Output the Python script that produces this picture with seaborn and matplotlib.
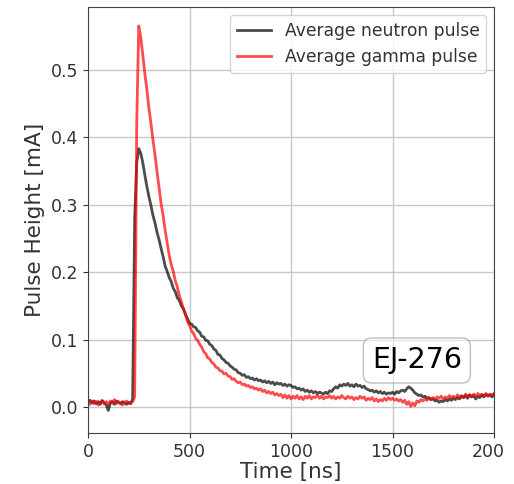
import numpy as np
import pandas as pd
import seaborn as sns
import matplotlib
matplotlib.use("Agg")
import matplotlib.pyplot as plt
from matplotlib.patches import Rectangle

# time axis, 10 ns sampling
time_ns = np.arange(0, 2001, 10)

# average neutron pulse [mA]
neutron = [
    0.007, 0.010, 0.006, 0.009, 0.005, 0.008, 0.004, 0.009, 0.006, 0.003,
    -0.005, 0.006, 0.008, 0.004, 0.009, 0.007, 0.005, 0.008, 0.006, 0.004,
    0.007, 0.005, 0.012, 0.280, 0.362, 0.383, 0.376, 0.362, 0.344, 0.327,
    0.312, 0.299, 0.284, 0.273, 0.259, 0.248, 0.235, 0.223, 0.209, 0.201,
    0.192, 0.186, 0.176, 0.171, 0.162, 0.158, 0.150, 0.146, 0.137, 0.131,
    0.124, 0.123, 0.119, 0.118, 0.113, 0.111, 0.105, 0.104, 0.099, 0.098,
    0.093, 0.091, 0.086, 0.084, 0.078, 0.077, 0.072, 0.070, 0.066, 0.065,
    0.061, 0.059, 0.056, 0.055, 0.051, 0.050, 0.047, 0.048, 0.044, 0.045,
    0.042, 0.043, 0.040, 0.042, 0.039, 0.040, 0.037, 0.039, 0.036, 0.038,
    0.035, 0.037, 0.033, 0.036, 0.034, 0.035, 0.032, 0.034, 0.031, 0.033,
    0.032, 0.029, 0.030, 0.027, 0.028, 0.025, 0.027, 0.023, 0.025, 0.022,
    0.024, 0.021, 0.023, 0.020, 0.022, 0.021, 0.019, 0.022, 0.020, 0.024,
    0.023, 0.027, 0.030, 0.028, 0.033, 0.031, 0.034, 0.032, 0.035, 0.031,
    0.033, 0.030, 0.034, 0.031, 0.032, 0.029, 0.031, 0.027, 0.026, 0.024,
    0.025, 0.022, 0.024, 0.021, 0.023, 0.020, 0.022, 0.019, 0.021, 0.020,
    0.022, 0.019, 0.023, 0.021, 0.024, 0.025, 0.023, 0.027, 0.030, 0.028,
    0.025, 0.021, 0.019, 0.017, 0.018, 0.015, 0.016, 0.013, 0.014, 0.011,
    0.012, 0.009, 0.010, 0.007, 0.009, 0.008, 0.011, 0.009, 0.012, 0.010,
    0.013, 0.011, 0.014, 0.012, 0.016, 0.014, 0.017, 0.013, 0.018, 0.015,
    0.017, 0.012, 0.016, 0.014, 0.018, 0.015, 0.019, 0.016, 0.018, 0.015,
    0.019,
]

# average gamma pulse [mA]
gamma = [
    0.006, 0.004, 0.009, 0.005, 0.008, 0.003, 0.007, 0.010, 0.005, 0.008,
    0.004, 0.009, 0.006, 0.011, 0.005, 0.008, 0.006, 0.003, 0.007, 0.009,
    0.005, 0.006, 0.008, 0.015, 0.420, 0.565, 0.548, 0.522, 0.494, 0.471,
    0.443, 0.421, 0.396, 0.374, 0.349, 0.326, 0.302, 0.284, 0.262, 0.243,
    0.225, 0.211, 0.201, 0.187, 0.178, 0.165, 0.156, 0.145, 0.138, 0.127,
    0.121, 0.113, 0.109, 0.102, 0.099, 0.093, 0.089, 0.082, 0.079, 0.073,
    0.071, 0.066, 0.064, 0.059, 0.058, 0.054, 0.053, 0.049, 0.050, 0.046,
    0.045, 0.041, 0.042, 0.038, 0.036, 0.037, 0.033, 0.034, 0.031, 0.032,
    0.029, 0.030, 0.027, 0.028, 0.025, 0.027, 0.023, 0.025, 0.021, 0.023,
    0.020, 0.022, 0.018, 0.020, 0.017, 0.019, 0.014, 0.018, 0.013, 0.017,
    0.012, 0.016, 0.013, 0.017, 0.012, 0.015, 0.011, 0.016, 0.013, 0.017,
    0.012, 0.015, 0.014, 0.018, 0.013, 0.016, 0.012, 0.015, 0.014, 0.017,
    0.013, 0.016, 0.012, 0.015, 0.013, 0.017, 0.014, 0.012, 0.016, 0.013,
    0.015, 0.011, 0.014, 0.012, 0.016, 0.013, 0.015, 0.010, 0.013, 0.011,
    0.014, 0.009, 0.012, 0.008, 0.011, 0.009, 0.013, 0.010, 0.014, 0.011,
    0.013, 0.010, 0.012, 0.009, 0.011, 0.007, 0.010, 0.004, 0.008, 0.001,
    0.006, 0.002, 0.009, 0.007, 0.011, 0.009, 0.012, 0.010, 0.013, 0.011,
    0.014, 0.012, 0.015, 0.013, 0.016, 0.012, 0.015, 0.013, 0.017, 0.014,
    0.016, 0.013, 0.018, 0.015, 0.017, 0.014, 0.019, 0.016, 0.018, 0.015,
    0.019, 0.016, 0.020, 0.017, 0.019, 0.016, 0.020, 0.017, 0.019, 0.018,
    0.020,
]

df = pd.DataFrame({"time": time_ns, "neutron": neutron, "gamma": gamma})

plt.rcParams["text.color"] = "#333333"
plt.rcParams["axes.labelcolor"] = "#333333"
plt.rcParams["xtick.color"] = "#333333"
plt.rcParams["ytick.color"] = "#333333"
plt.rcParams["axes.edgecolor"] = "#444444"

fig = plt.figure(figsize=(5.14, 4.84), dpi=100)
ax = fig.add_axes([88 / 514, 51 / 484, 406 / 514, 426 / 484])

sns.lineplot(data=df, x="time", y="neutron", ax=ax, color="black", alpha=0.7,
             linewidth=2, label="Average neutron pulse")
sns.lineplot(data=df, x="time", y="gamma", ax=ax, color="red", alpha=0.7,
             linewidth=2, label="Average gamma pulse")

ax.set_xlim(0, 2000)
ax.set_ylim(-0.0385, 0.593)
ax.set_xticks([0, 500, 1000, 1500, 2000])
ax.grid(True, color="#c8c8c8", linewidth=1)
ax.tick_params(labelsize=12.5)
ax.set_xlabel("Time [ns]", fontsize=15.5, labelpad=1)
ax.set_ylabel("Pulse Height [mA]", fontsize=15.5)
ax.legend(loc="upper right", fontsize=12.3, borderaxespad=0.45)

ax.text(1620, 0.069, "EJ-276", fontsize=20.5, ha="center", va="center", color="black",
        bbox=dict(boxstyle="round", facecolor="white", edgecolor="gray", alpha=0.5))

# the reference picture is cropped just past the right spine
fig.patches.append(Rectangle((504 / 514, 0), 10 / 514, 1, transform=fig.transFigure,
                             facecolor="white", edgecolor="none", zorder=10))

fig.savefig("out.png", dpi=100)
